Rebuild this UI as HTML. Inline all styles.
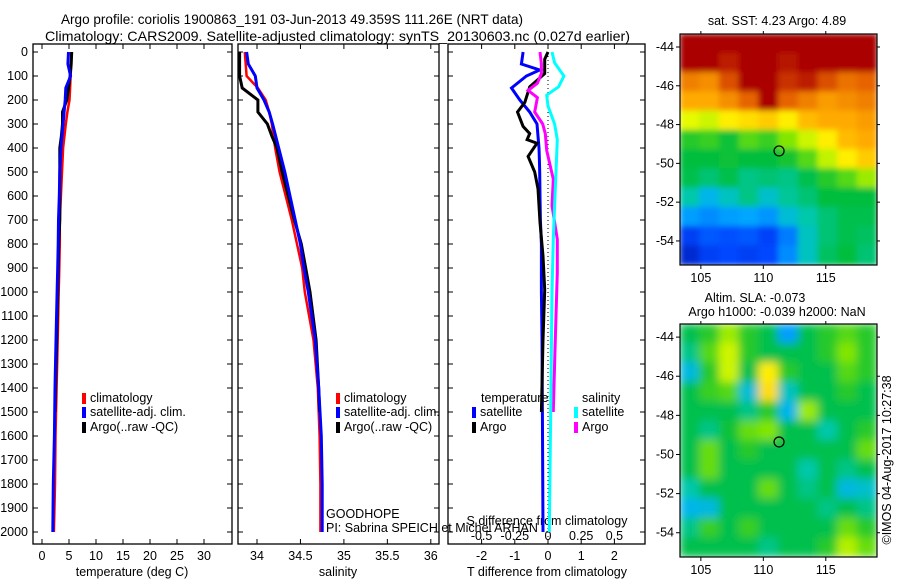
<!DOCTYPE html>
<html><head><meta charset="utf-8"><style>
html,body{margin:0;padding:0;background:#fff;}
svg{display:block;font-family:"Liberation Sans",sans-serif;font-size:12.5px;}
</style></head><body>
<svg id="c" width="900" height="580" viewBox="0 0 900 580" xmlns="http://www.w3.org/2000/svg"></svg>
<script>
// ---------- data ----------
const tDepth=[0,50,100,150,200,250,300,400,500,600,700,800,900,1000,1200,1400,1600,1800,2000];
const tClim=[5.4,5.4,5.3,5.2,5.1,4.7,4.4,3.9,3.7,3.5,3.3,3.3,3.2,3.1,2.9,2.7,2.5,2.4,2.2];
const tSat=[4.9,4.8,5.3,4.4,4.3,4.1,3.9,3.5,3.3,3.2,3.05,3.0,2.9,2.8,2.6,2.4,2.3,2.1,2.0];
const argoDepth=[0,50,100,150,200,250,300,350,400,500,600,700,800,900,1000,1200,1400,1500];
const tArgo=[5.5,5.4,5.2,4.9,4.6,3.8,3.8,3.6,3.3,3.3,3.3,3.3,3.1,3.0,2.9,2.7,2.5,2.4];
const sClim=[33.86,33.87,33.88,34.01,34.10,34.14,34.17,34.21,34.26,34.33,34.40,34.46,34.52,34.55,34.65,34.70,34.72,34.73,34.73];
const sSat=[33.88,33.90,33.98,34.00,34.08,34.14,34.18,34.25,34.32,34.38,34.44,34.50,34.54,34.59,34.67,34.71,34.74,34.75,34.75];
const sArgo=[33.80,33.80,33.80,33.83,34.01,34.01,34.12,34.17,34.23,34.29,34.36,34.43,34.51,34.56,34.61,34.68,34.71,34.72];
const dTsatDepth=[0,50,75,100,150,200,250,300,350,400,450,500,600,700,800,1000,1200,1500,2000];
const dTsat=[-0.75,-0.8,-0.25,-0.65,-1.1,-0.85,-0.55,-0.33,-0.3,-0.27,-0.26,-0.25,-0.24,-0.23,-0.2,-0.2,-0.18,-0.17,-0.15];
const dTargoDepth=[0,30,90,145,210,250,310,340,365,380,435,500,570,710,850,990,1200,1500];
const dTargo=[0,-0.1,-0.1,-0.55,-0.7,-0.92,-0.75,-0.55,-0.63,-0.33,-0.6,-0.4,-0.3,-0.24,-0.15,-0.1,-0.15,-0.2];
const dSargoDepth=[0,50,90,130,160,190,250,300,340,410,530,640,780,920,1100,1300,1500];
const dSargo=[-0.06,-0.05,-0.05,-0.08,-0.15,-0.08,-0.1,-0.04,-0.02,-0.01,0.04,0.03,0.07,0.07,0.06,0.05,0.04];
const dSsatDepth=[0,45,100,145,180,225,300,365,500,640,780,1000,1500,2000];
const dSsat=[0.03,0.05,0.12,0.08,-0.01,0.0,0.05,0.07,0.06,0.05,0.04,0.03,0.02,0.01];
const depthTicks=[0,100,200,300,400,500,600,700,800,900,1000,1100,1200,1300,1400,1500,1600,1700,1800,1900,2000];
const tempTicks=[0,5,10,15,20,25,30];
const salTicks=[34,34.5,35,35.5,36];
const salTickLabels=["34","34.5","35","35.5","36"];
const dTTicks=[-2,-1,0,1,2];
const dSTicks=[-0.5,-0.25,0,0.25,0.5];
const dSTickLabels=["-0.5","-0.25","0","0.25","0.5"];
const lonTicks=[105,110,115];
const latTicks=[-44,-46,-48,-50,-52,-54];
const sstGrid=[
[1,1,1,1,1,1,1,1,1,1],
[1,1,0.97,1,1,0.98,1,1,1,1],
[0.86,0.84,0.92,1,1,0.95,0.97,0.92,0.88,0.9],
[0.8,0.8,0.84,0.9,1,0.9,0.86,0.82,0.84,0.86],
[0.68,0.66,0.72,0.74,0.76,0.72,0.78,0.8,0.8,0.82],
[0.5,0.52,0.47,0.55,0.52,0.6,0.66,0.72,0.78,0.8],
[0.46,0.46,0.47,0.46,0.46,0.48,0.55,0.65,0.72,0.76],
[0.45,0.43,0.45,0.42,0.43,0.42,0.45,0.5,0.55,0.62],
[0.4,0.34,0.38,0.42,0.37,0.41,0.43,0.46,0.46,0.46],
[0.3,0.28,0.3,0.31,0.29,0.36,0.4,0.43,0.45,0.45],
[0.18,0.22,0.21,0.22,0.19,0.26,0.38,0.43,0.45,0.44],
[0.12,0.18,0.2,0.18,0.2,0.28,0.38,0.44,0.46,0.43]];
const slaGrid=[
[0.45,0.5,0.62,0.5,0.45,0.3,0.45,0.5,0.55,0.5],
[0.42,0.55,0.66,0.5,0.45,0.45,0.45,0.5,0.6,0.5],
[0.35,0.5,0.66,0.45,0.72,0.5,0.45,0.45,0.55,0.5],
[0.45,0.52,0.55,0.36,0.74,0.38,0.45,0.45,0.5,0.45],
[0.45,0.45,0.45,0.42,0.5,0.34,0.62,0.45,0.45,0.45],
[0.45,0.42,0.47,0.57,0.6,0.45,0.45,0.4,0.45,0.5],
[0.45,0.57,0.45,0.5,0.45,0.45,0.45,0.45,0.45,0.57],
[0.45,0.57,0.45,0.45,0.45,0.45,0.4,0.45,0.42,0.45],
[0.4,0.45,0.45,0.45,0.57,0.45,0.42,0.45,0.35,0.37],
[0.34,0.35,0.45,0.45,0.45,0.45,0.45,0.42,0.45,0.42],
[0.42,0.52,0.45,0.52,0.45,0.45,0.45,0.45,0.57,0.5],
[0.45,0.45,0.45,0.45,0.42,0.45,0.45,0.5,0.64,0.57]];
const argoLon=111.26, argoLat=-49.36;

// ---------- helpers ----------
const NS="http://www.w3.org/2000/svg";
const svg=document.getElementById('c');
function el(tag,attrs,parent){const e=document.createElementNS(NS,tag);for(const k in attrs)e.setAttribute(k,attrs[k]);(parent||svg).appendChild(e);return e;}
function txt(s,x,y,anchor,parent){const t=el('text',{x:x,y:y,'text-anchor':anchor||'start',fill:'#000'},parent);t.textContent=s;return t;}
const Y=d=>52+0.24*d;
const PT=44, PB=544;
function xT(v){return 42+5.4*v;}
function xS(v){return 257+86.9*(v-34);}
function xDT(v){return 548+33.2*v;}
function xDS(v){return 548+132.8*v;}

function frame(x0,x1,name,labels){
  const g=el('g',{});
  
  
  el('rect',{x:x0,y:PT,width:x1-x0,height:PB-PT,fill:'none',stroke:'#000','stroke-width':1.3},g);
  depthTicks.forEach(d=>{
    const y=Y(d);
    el('line',{x1:x0,x2:x0+5,y1:y,y2:y,stroke:'#000'},g);
    el('line',{x1:x1,x2:x1-5,y1:y,y2:y,stroke:'#000'},g);
    if(labels){const t=txt(String(d),28,y+4,'end',g);
      
      }
  });
  return g;
}
function xticks(g,ticks,labs,fx,ytop){
  ticks.forEach((v,i)=>{
    const x=fx(v);
    el('line',{x1:x,x2:x,y1:PB,y2:PB-5,stroke:'#000'},g);
    el('line',{x1:x,x2:x,y1:PT,y2:PT+5,stroke:'#000'},g);
    const t=txt(labs[i],x,ytop,'middle',g);
    
    
  });
}
function line(depths,vals,fx,color,w,name){
  const pts=depths.map((d,i)=>fx(vals[i]).toFixed(1)+','+Y(d).toFixed(1)).join(' ');
  const p=el('polyline',{points:pts,fill:'none',stroke:color,'stroke-width':w,'stroke-linejoin':'miter'});
  
  
}
function legendEntry(x,y,color,label,name){
  const g=el('g',{});
  
  
  el('rect',{x:x,y:y-9,width:4,height:11,fill:color},g);
  txt(label,x+8,y,'start',g);
}

// titles
let t=txt('Argo profile: coriolis 1900863_191 03-Jun-2013 49.359S 111.26E (NRT data)',61,24,'start');
t.setAttribute('textLength','462');
t.setAttribute('lengthAdjust','spacingAndGlyphs');
t.setAttribute('font-size','14');


t=txt('Climatology: CARS2009. Satellite-adjusted climatology: synTS_20130603.nc (0.027d earlier)',45,41,'start');
t.setAttribute('textLength','585');
t.setAttribute('lengthAdjust','spacingAndGlyphs');
t.setAttribute('font-size','14');



// panel 1 temperature
let g=frame(33,232,'temperature-panel',true);
xticks(g,tempTicks,tempTicks.map(String),xT,560);
t=txt('temperature (deg C)',132,576,'middle');


line(tDepth,tClim,xT,'#f00',2.5,'temp-climatology-line');
line(argoDepth,tArgo,xT,'#000',3,'temp-argo-line');
line(tDepth,tSat,xT,'#00f',3,'temp-satellite-line');
legendEntry(82,402,'#f00','climatology','legend-climatology');
legendEntry(82,416,'#00f','satellite-adj. clim.','legend-satellite');
legendEntry(82,431,'#000','Argo(..raw -QC)','legend-argo');

// panel 2 salinity
g=frame(238,439,'salinity-panel',false);
xticks(g,salTicks,salTickLabels,xS,560);
t=txt('salinity',338,576,'middle');


line(tDepth,sClim,xS,'#f00',2.5,'sal-climatology-line');
line(argoDepth,sArgo,xS,'#000',3,'sal-argo-line');
line(tDepth,sSat,xS,'#00f',3,'sal-satellite-line');
legendEntry(336,402,'#f00','climatology','legend-climatology-2');
legendEntry(336,416,'#00f','satellite-adj. clim.','legend-satellite-2');
legendEntry(336,431,'#000','Argo(..raw -QC)','legend-argo-2');
t=txt('GOODHOPE',326,518,'start');


t=txt('PI: Sabrina SPEICH et Michel ARHAN',326,532,'start');



// panel 3 differences
g=frame(448,645,'difference-panel',false);
xticks(g,dTTicks,dTTicks.map(String),xDT,560);
el('line',{x1:548,x2:548,y1:PT,y2:PB,stroke:'#000','stroke-dasharray':'1,3'},g);
dSTicks.forEach((v,i)=>{
  const tt=txt(dSTickLabels[i],xDS(v),540,'middle',g);
  
  
});
t=txt('S difference from climatology',547,525,'middle');


t=txt('T difference from climatology',547,576,'middle');


line(dTsatDepth,dTsat,xDT,'#00f',3,'tdiff-satellite-line');
line(dTargoDepth,dTargo,xDT,'#000',3,'tdiff-argo-line');
line(dSargoDepth,dSargo,xDS,'#f0f',3,'sdiff-argo-line');
line(dSsatDepth,dSsat,xDS,'#0ff',3,'sdiff-satellite-line');
t=txt('temperature',481,402,'start');


t=txt('salinity',582,402,'start');


legendEntry(472,416,'#00f','satellite','legend-t-satellite');
legendEntry(472,431,'#000','Argo','legend-t-argo');
legendEntry(574,416,'#0ff','satellite','legend-s-satellite');
legendEntry(574,431,'#f0f','Argo','legend-s-argo');

// ---------- maps ----------
const stops=[[0,[0,0,140]],[0.2,[0,70,255]],[0.32,[0,175,255]],[0.4,[0,200,170]],[0.46,[0,190,60]],[0.6,[130,230,0]],[0.7,[255,255,0]],[0.8,[255,170,0]],[0.9,[230,100,0]],[1,[170,0,0]]];
function cmap(v){for(let i=1;i<stops.length;i++){if(v<=stops[i][0]){const a=stops[i-1],b=stops[i],f=(v-a[0])/(b[0]-a[0]);return 'rgb('+a[1].map((c,k)=>Math.round(c+(b[1][k]-c)*f)).join(',')+')';}}return 'rgb(170,0,0)';}
const LON0=103.33,LON1=119.1,LAT0=-43.33,LAT1=-55.24;
function map(top,bottom,grid,name,blur){
  const x0=680,x1=877;
  const mx=lon=>x0+(lon-LON0)/(LON1-LON0)*(x1-x0);
  const my=lat=>top+(lat-LAT0)/(LAT1-LAT0)*(bottom-top);
  const gg=el('g',{});
  
  
  const cp=el('clipPath',{id:name+'-clip'},gg);
  el('rect',{x:x0,y:top,width:x1-x0,height:bottom-top},cp);
  const cells=el('g',{'clip-path':'url(#'+name+'-clip)'},gg);
  const inner=el('g',{filter:'url(#'+blur+')'},cells);
  const rows=grid.length,cols=grid[0].length;
  const cw=(x1-x0)/cols,ch=(bottom-top)/rows;
  grid.forEach((row,r)=>row.forEach((v,c)=>{
    const cell=el('rect',{x:(x0+c*cw-0.5).toFixed(1),y:(top+r*ch-0.5).toFixed(1),width:(cw+1).toFixed(1),height:(ch+1).toFixed(1),fill:cmap(v)},inner);
    
    
  }));
  el('rect',{x:x0,y:top,width:x1-x0,height:bottom-top,fill:'none',stroke:'#000','stroke-width':1.2},gg);
  lonTicks.forEach(l=>{const x=mx(l);
    el('line',{x1:x,x2:x,y1:bottom,y2:bottom+4,stroke:'#000'},gg);
    el('line',{x1:x,x2:x,y1:top,y2:top-3,stroke:'#000'},gg);
    const tl=txt(String(l),x,bottom+17,'middle',gg);
    
    });
  latTicks.forEach(l=>{const y=my(l);
    el('line',{x1:x0,x2:x0-4,y1:y,y2:y,stroke:'#000'},gg);
    el('line',{x1:x1,x2:x1+3,y1:y,y2:y,stroke:'#000'},gg);
    const tl=txt(String(l),x0-6,y+4,'end',gg);
    
    });
  const m=el('circle',{cx:mx(argoLon),cy:my(argoLat),r:5,fill:'none',stroke:'#000','stroke-width':1.2},gg);
  
  
}
const defs=el('defs',{});
let f=el('filter',{id:'blur',x:'-10%',y:'-10%',width:'120%',height:'120%'},defs);
el('feGaussianBlur',{stdDeviation:'4.5'},f);
f=el('filter',{id:'blur2',x:'-10%',y:'-10%',width:'120%',height:'120%'},defs);
el('feGaussianBlur',{stdDeviation:'3'},f);
map(34,265,sstGrid,'sst-map','blur2');
map(324,557,slaGrid,'sla-map','blur');
t=txt('sat. SST: 4.23 Argo: 4.89',777,25,'middle');


t=txt('Altim. SLA: -0.073',755,302,'middle');


t=txt('Argo h1000: -0.039 h2000: NaN',777,316,'middle');


t=txt('©IMOS 04-Aug-2017 10:27:38',0,0,'middle');
t.setAttribute('transform','translate(891,460) rotate(-90)');


</script>
</body></html>
